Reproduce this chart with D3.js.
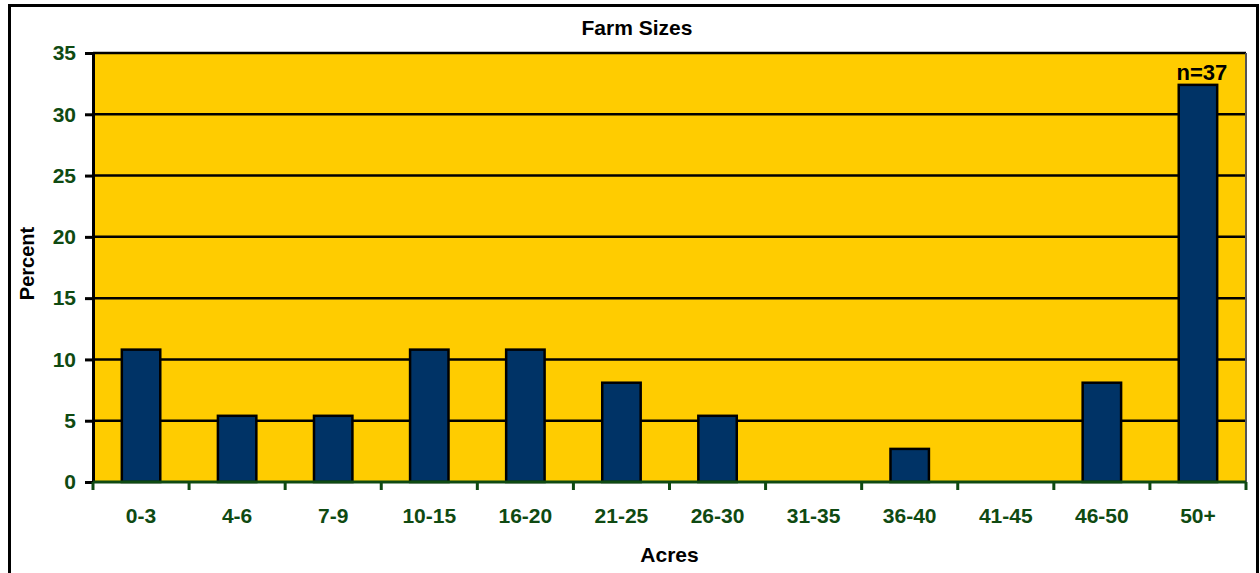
<!DOCTYPE html>
<html>
<head>
<meta charset="utf-8">
<script src="https://cdn.jsdelivr.net/npm/d3@7"></script>
<style>
  html, body { margin: 0; padding: 0; background: #ffffff; }
  svg { display: block; font-family: "Liberation Sans", Arial, sans-serif; }
</style>
</head>
<body>
<svg id="chart" width="1260" height="573"></svg>
<script>
// Farm size distribution (percent of farms, n = 37)
const categories = ["0-3", "4-6", "7-9", "10-15", "16-20", "21-25", "26-30", "31-35", "36-40", "41-45", "46-50", "50+"];
const percents = [10.8, 5.4, 5.4, 10.8, 10.8, 8.1, 5.4, 0, 2.7, 0, 8.1, 32.4];
const yTicks = [0, 5, 10, 15, 20, 25, 30, 35];
const sampleLabel = "n=37";

const W = 1260, H = 573;
const plot = { left: 93, right: 1246, top: 53, bottom: 482 };
const green = "#0f4a12";

const svg = d3.select("#chart");

// outer chart frame
svg.append("rect")
  .attr("x", 9.5).attr("y", 5.5)
  .attr("width", 1248).attr("height", 600)
  .attr("fill", "#ffffff").attr("stroke", "#000").attr("stroke-width", 3);

const x = d3.scaleBand().domain(categories).range([plot.left, plot.right]).paddingInner(0.6).paddingOuter(0.3);
const xOuter = d3.scaleBand().domain(categories).range([plot.left, plot.right]);
const y = d3.scaleLinear().domain([0, 35]).range([plot.bottom, plot.top]);

// plot background
svg.append("rect")
  .attr("x", plot.left).attr("y", plot.top)
  .attr("width", plot.right - plot.left).attr("height", plot.bottom - plot.top)
  .attr("fill", "#FFCC00");

// gridlines
svg.append("g").selectAll("line")
  .data(yTicks.filter(d => d > 0))
  .join("line")
  .attr("x1", plot.left).attr("x2", plot.right)
  .attr("y1", d => y(d)).attr("y2", d => y(d))
  .attr("stroke", "#000").attr("stroke-width", 2.5);

// right edge of plot area
svg.append("line")
  .attr("x1", plot.right).attr("x2", plot.right)
  .attr("y1", plot.top).attr("y2", plot.bottom)
  .attr("stroke", "#555").attr("stroke-width", 2);

// bars
svg.append("g").selectAll("rect")
  .data(percents.map((v, i) => ({ c: categories[i], v })).filter(d => d.v > 0))
  .join("rect")
  .attr("x", d => x(d.c))
  .attr("y", d => y(d.v))
  .attr("width", x.bandwidth())
  .attr("height", d => y(0) - y(d.v))
  .attr("fill", "#003366")
  .attr("stroke", "#000").attr("stroke-width", 2.5);

// y axis
const yAxis = svg.append("g")
  .attr("transform", `translate(${plot.left},0)`)
  .call(d3.axisLeft(y).tickValues(yTicks).tickSize(8).tickSizeOuter(0).tickPadding(9));
yAxis.select(".domain").attr("stroke", "#000").attr("stroke-width", 3);
yAxis.selectAll(".tick line").attr("stroke", "#000").attr("stroke-width", 3);
yAxis.selectAll(".tick text")
  .attr("fill", green).attr("font-size", 21).attr("font-weight", "bold")
  .attr("font-family", "Liberation Sans, Arial, sans-serif");

// x axis: ticks at category boundaries
const boundaries = categories.map(c => xOuter(c)).concat([plot.right]);
svg.append("line")
  .attr("x1", plot.left).attr("x2", plot.right)
  .attr("y1", plot.bottom).attr("y2", plot.bottom)
  .attr("stroke", green).attr("stroke-width", 3);
svg.append("g").selectAll("line")
  .data(boundaries)
  .join("line")
  .attr("x1", d => d).attr("x2", d => d)
  .attr("y1", plot.bottom).attr("y2", plot.bottom + 8)
  .attr("stroke", green).attr("stroke-width", 3);
svg.append("g").selectAll("text")
  .data(categories)
  .join("text")
  .attr("x", d => xOuter(d) + xOuter.bandwidth() / 2)
  .attr("y", 523)
  .attr("text-anchor", "middle")
  .attr("fill", green).attr("font-size", 21).attr("font-weight", "bold")
  .text(d => d);

// sample size label above the tallest bar
svg.append("text")
  .attr("x", x(categories[categories.length - 1]) + x.bandwidth() / 2 + 4)
  .attr("y", y(percents[percents.length - 1]) - 5)
  .attr("text-anchor", "middle")
  .attr("fill", "#000").attr("font-size", 22).attr("font-weight", "bold")
  .text(sampleLabel);

// title and axis titles
svg.append("text")
  .attr("x", 637).attr("y", 35)
  .attr("text-anchor", "middle")
  .attr("font-size", 21).attr("font-weight", "bold")
  .text("Farm Sizes");
svg.append("text")
  .attr("x", (plot.left + plot.right) / 2).attr("y", 562)
  .attr("text-anchor", "middle")
  .attr("font-size", 21).attr("font-weight", "bold")
  .text("Acres");
svg.append("text")
  .attr("transform", `translate(34,${(plot.top + plot.bottom) / 2 - 4}) rotate(-90)`)
  .attr("text-anchor", "middle")
  .attr("font-size", 20).attr("font-weight", "bold")
  .text("Percent");
</script>
</body>
</html>
